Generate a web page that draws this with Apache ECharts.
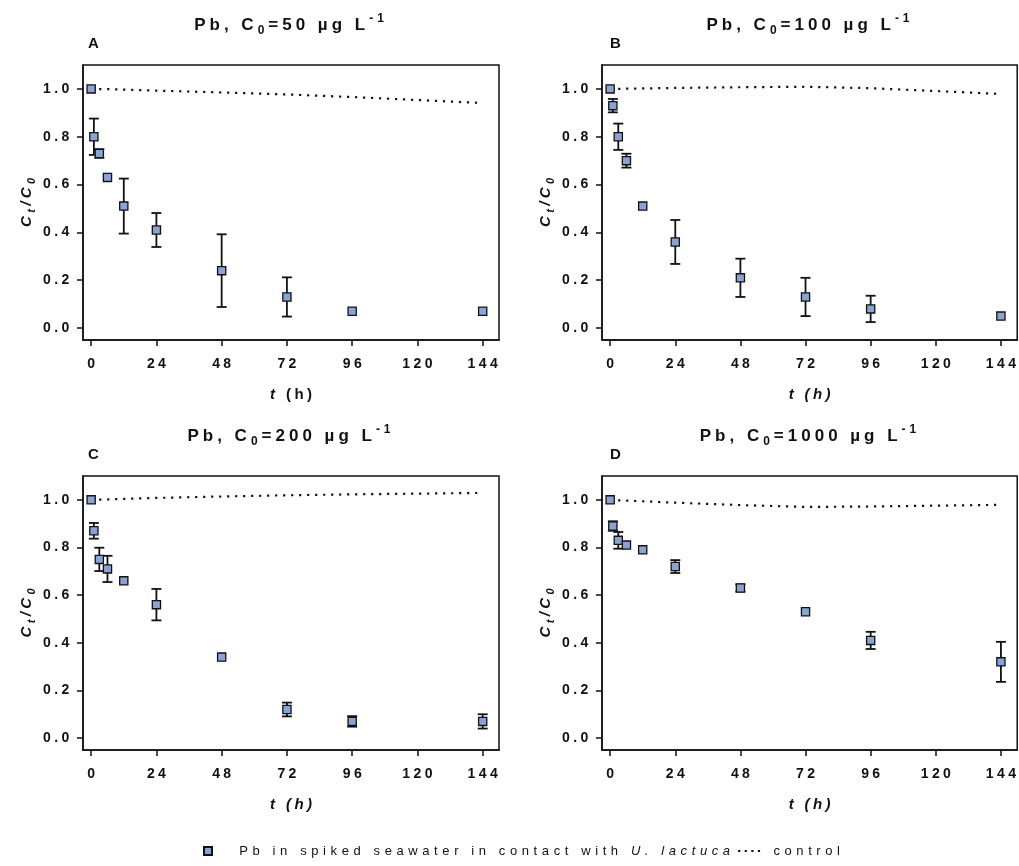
<!DOCTYPE html>
<html>
<head>
<meta charset="utf-8">
<script src="https://cdn.jsdelivr.net/npm/echarts@6/dist/echarts.min.js"></script>
<style>
  html, body { margin: 0; padding: 0; background: #ffffff; }
  #chart { width: 1019px; height: 866px; }
</style>
</head>
<body>
<div id="chart"></div>
<script>
// Sampling times (h)
const hours = [0, 1, 3, 6, 12, 24, 48, 72, 96, 144];

// Ct/C0 of Pb in spiked seawater with U. lactuca (mean) and SD, per initial concentration
const pb50   = [1.00, 0.80, 0.73, 0.63, 0.51, 0.41, 0.24, 0.13, 0.07, 0.07];
const sd50   = [0, 0.076, 0.018, 0, 0.115, 0.071, 0.152, 0.082, 0, 0];
const pb100  = [1.00, 0.93, 0.80, 0.70, 0.51, 0.36, 0.21, 0.13, 0.08, 0.05];
const sd100  = [0, 0.028, 0.055, 0.029, 0, 0.092, 0.080, 0.080, 0.055, 0];
const pb200  = [1.00, 0.87, 0.75, 0.71, 0.66, 0.56, 0.34, 0.12, 0.07, 0.07];
const sd200  = [0, 0.033, 0.049, 0.055, 0, 0.066, 0, 0.029, 0.022, 0.030];
const pb1000 = [1.00, 0.89, 0.83, 0.81, 0.79, 0.72, 0.63, 0.53, 0.41, 0.32];
const sd1000 = [0, 0.020, 0.035, 0, 0, 0.027, 0.015, 0, 0.036, 0.084];

// Control (no algae) Ct/C0
const control50   = [1.000, 1.000, 0.999, 0.999, 0.997, 0.993, 0.985, 0.977, 0.966, 0.941];
const control100  = [1.000, 1.000, 1.000, 1.001, 1.002, 1.004, 1.007, 1.009, 1.003, 0.979];
const control200  = [1.000, 1.000, 1.001, 1.002, 1.004, 1.008, 1.014, 1.019, 1.023, 1.029];
const control1000 = [1.000, 0.999, 0.998, 0.997, 0.994, 0.988, 0.978, 0.970, 0.972, 0.979];

// Axis ticks
const xTicks = [0, 24, 48, 72, 96, 120, 144];
const yTicks = [0, 0.2, 0.4, 0.6, 0.8, 1.0];

// Panels
const panelLetters = ['A', 'B', 'C', 'D'];
const concentrations = ['50', '100', '200', '1000'];
const pbSets = [pb50, pb100, pb200, pb1000];
const sdSets = [sd50, sd100, sd200, sd1000];
const controlSets = [control50, control100, control200, control1000];

const hostSpecies = 'U. lactuca';
const pbLabel = 'Pb in spiked seawater in contact with ' + hostSpecies;
const controlLabel = 'control';

// ---- styling ----
const FONT = '"Liberation Sans", Arial, Helvetica, sans-serif';
const INK = '#111111';
const FILL = '#87a4d4';

// wide tracking: every character is its own rich token with side padding
function spaced(text, style) {
  return Array.from(text).map(c => '{' + style + '|' + c + '}').join('');
}
function pad(p) { return [0, p, 0, p]; }

const tickRich = {
  tk: { fontFamily: FONT, fontSize: 14, fontWeight: 'bold', color: INK, padding: pad(1.7) }
};
const nameRich = {
  nm: { fontFamily: FONT, fontSize: 15, fontWeight: 'bold', fontStyle: 'italic', color: INK, lineHeight: 20, padding: pad(1.7) },
  nu: { fontFamily: FONT, fontSize: 15, fontWeight: 'bold', fontStyle: 'normal', color: INK, lineHeight: 20, padding: pad(1.7) },
  ns: { fontFamily: FONT, fontSize: 11, fontWeight: 'bold', fontStyle: 'italic', color: INK, lineHeight: 10, verticalAlign: 'bottom', padding: pad(1.7) }
};
const titleRich = {
  m:  { fontFamily: FONT, fontSize: 17, fontWeight: 'bold', color: INK, lineHeight: 24, padding: pad(2.0) },
  sb: { fontFamily: FONT, fontSize: 12, fontWeight: 'bold', color: INK, lineHeight: 12, verticalAlign: 'bottom', padding: pad(2.0) },
  sp: { fontFamily: FONT, fontSize: 12, fontWeight: 'bold', color: INK, lineHeight: 12, verticalAlign: 'top', padding: pad(2.0) }
};
const legendRich = {
  lg:  { fontFamily: FONT, fontSize: 13, color: INK, padding: pad(2.3) },
  lgi: { fontFamily: FONT, fontSize: 13, fontStyle: 'italic', color: INK, padding: pad(2.3) },
  g1:  { width: 13 },
  g2:  { width: 6 }
};

const boxes = [
  { left: 83,  top: 65,  width: 416, height: 275 },
  { left: 602, top: 65,  width: 416, height: 275 },
  { left: 83,  top: 476, width: 416, height: 274 },
  { left: 602, top: 476, width: 416, height: 274 }
];

const grids = [], xAxes = [], yAxes = [], series = [], titles = [];

boxes.forEach((b, i) => {
  grids.push({
    left: b.left, top: b.top, width: b.width, height: b.height,
    show: true, borderColor: INK, borderWidth: 1.5, backgroundColor: 'transparent'
  });

  const xName = i === 0
    ? spaced('t', 'nm') + spaced(' (h)', 'nu')
    : spaced('t (h)', 'nm');

  xAxes.push({
    type: 'value', gridIndex: i, min: -3, max: 150,
    axisLine: { show: true, onZero: false, lineStyle: { color: INK, width: 1.5 } },
    axisTick: { show: true, length: 6, customValues: xTicks, lineStyle: { color: INK, width: 1.5 } },
    axisLabel: { customValues: xTicks, margin: 17, formatter: v => spaced(String(v), 'tk'), rich: tickRich },
    splitLine: { show: false },
    name: xName, nameLocation: 'middle', nameGap: 45,
    nameTextStyle: { rich: nameRich }
  });

  yAxes.push({
    type: 'value', gridIndex: i, min: -0.05, max: 1.1,
    axisLine: { show: true, onZero: false, lineStyle: { color: INK, width: 1.5 } },
    axisTick: { show: true, length: 6, customValues: yTicks, lineStyle: { color: INK, width: 1.5 } },
    axisLabel: { customValues: yTicks, margin: 12, formatter: v => spaced(v.toFixed(1), 'tk'), rich: tickRich },
    splitLine: { show: false },
    name: spaced('C', 'nm') + spaced('t', 'ns') + spaced('/C', 'nm') + spaced('0', 'ns'),
    nameLocation: 'middle', nameGap: 46,
    nameTextStyle: { rich: nameRich }
  });

  // panel heading and letter
  titles.push({
    text: spaced('Pb, C', 'm') + spaced('0', 'sb') + spaced('=' + concentrations[i] + ' \u00b5g L', 'm') + spaced('-1', 'sp'),
    left: b.left + b.width / 2 - 2, top: b.top - 52, textAlign: 'center', padding: 0,
    textStyle: { rich: titleRich }
  });
  titles.push({
    text: panelLetters[i],
    left: b.left + (i % 2 === 0 ? 5 : 8), top: b.top - 29, padding: 0,
    textStyle: { fontFamily: FONT, fontSize: 15, fontWeight: 'bold', color: INK }
  });

  // control curve
  series.push({
    name: controlLabel, type: 'line', xAxisIndex: i, yAxisIndex: i,
    data: hours.map((h, k) => [h, controlSets[i][k]]),
    symbol: 'none', color: INK, z: 2, silent: true,
    lineStyle: { color: INK, width: 2.2, type: [2.2, 5.8], cap: 'butt' }
  });

  // error bars (mean ± SD)
  series.push({
    name: 'SD', type: 'custom', xAxisIndex: i, yAxisIndex: i, z: 3, silent: true,
    data: hours.map((h, k) => [h, pbSets[i][k], sdSets[i][k]]).filter(d => d[2] > 0),
    encode: { x: 0, y: 1 },
    renderItem: (params, api) => {
      const x = api.value(0), y = api.value(1), e = api.value(2);
      const hi = api.coord([x, y + e]);
      const lo = api.coord([x, y - e]);
      const cap = 5;
      const st = { stroke: INK, lineWidth: 1.8 };
      return {
        type: 'group',
        children: [
          { type: 'line', shape: { x1: hi[0], y1: hi[1], x2: lo[0], y2: lo[1] }, style: st },
          { type: 'line', shape: { x1: hi[0] - cap, y1: hi[1], x2: hi[0] + cap, y2: hi[1] }, style: st },
          { type: 'line', shape: { x1: lo[0] - cap, y1: lo[1], x2: lo[0] + cap, y2: lo[1] }, style: st }
        ]
      };
    }
  });

  // measured points
  series.push({
    name: pbLabel, type: 'scatter', xAxisIndex: i, yAxisIndex: i, z: 4, silent: true,
    data: hours.map((h, k) => [h, pbSets[i][k]]),
    symbol: 'rect', symbolSize: 8.2,
    itemStyle: { color: FILL, borderColor: INK, borderWidth: 1.3, opacity: 1 }
  });
});

const chart = echarts.init(document.getElementById('chart'), null, { renderer: 'canvas' });
chart.setOption({
  backgroundColor: '#ffffff',
  animation: false,
  title: titles,
  grid: grids,
  xAxis: xAxes,
  yAxis: yAxes,
  legend: {
    left: 203, top: 844.5, padding: 0, orient: 'horizontal',
    itemWidth: 22, itemHeight: 8, itemGap: 8,
    selectedMode: false,
    data: [
      { name: pbLabel, icon: 'path://M0,0H10V10H0Z' },
      { name: controlLabel, icon: 'path://M0,0H2V2H0Z M6,0H8V2H6Z M12,0H14V2H12Z M18,0H20V2H18Z' }
    ],
    formatter: name => name === controlLabel
      ? '{g2| }' + spaced(name, 'lg')
      : '{g1| }' + spaced(name.slice(0, name.length - hostSpecies.length), 'lg') + spaced(hostSpecies, 'lgi'),
    textStyle: { rich: legendRich }
  },
  series: series
});
</script>
</body>
</html>
